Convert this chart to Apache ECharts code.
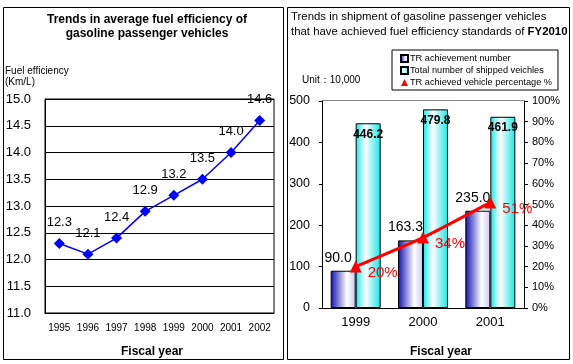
<!DOCTYPE html>
<html><head><meta charset="utf-8">
<script src="https://cdn.jsdelivr.net/npm/echarts@6/dist/echarts.min.js"></script>
<style>html,body{margin:0;padding:0;background:#fff}#c{width:573px;height:364px}</style>
</head><body><div id="c"></div>
<script>
const fuelYears = ['1995','1996','1997','1998','1999','2000','2001','2002'];
const fuelValues = [12.3, 12.1, 12.4, 12.9, 13.2, 13.5, 14.0, 14.6];
const shipYears = ['1999','2000','2001'];
const trNumber = [90.0, 163.3, 235.0];
const totalShipped = [446.2, 479.8, 461.9];
const trPercent = [0.20, 0.34, 0.51];
const legendNames = ['TR achievement number','Total number of shipped veichles','TR achieved vehicle percentage %'];

const F = 'Arial, "Liberation Sans", sans-serif';
const chart = echarts.init(document.getElementById('c'), null, {renderer:'canvas'});
const blueGrad = new echarts.graphic.LinearGradient(0,0,1,0,[
  {offset:0,color:'#1010b0'},{offset:0.65,color:'#ffffff'},{offset:1,color:'#c8c8f4'}]);
const cyanGrad = new echarts.graphic.LinearGradient(0,0,1,0,[
  {offset:0,color:'#19e6e6'},{offset:0.4,color:'#ffffff'},{offset:1,color:'#19e6e6'}]);

chart.setOption({
  animation:false,
  textStyle:{fontFamily:F},
  graphic:[
    {type:'rect',shape:{x:3.5,y:7.5,width:280,height:352},style:{fill:'none',stroke:'#000',lineWidth:1}},
    {type:'rect',shape:{x:287.5,y:7.5,width:282,height:352},style:{fill:'none',stroke:'#000',lineWidth:1}},
    {type:'text',x:147,y:20,style:{text:'Trends in average fuel efficiency of',font:'bold 12px '+F,fill:'#000',align:'center',verticalAlign:'middle'}},
    {type:'text',x:147,y:34,style:{text:'gasoline passenger vehicles',font:'bold 12px '+F,fill:'#000',align:'center',verticalAlign:'middle'}},
    {type:'text',x:5,y:71,style:{text:'Fuel efficiency',font:'10px '+F,fill:'#000',verticalAlign:'middle'}},
    {type:'text',x:5,y:82,style:{text:'(Km/L)',font:'10px '+F,fill:'#000',verticalAlign:'middle'}},
    {type:'text',x:152,y:352,style:{text:'Fiscal year',font:'bold 12px '+F,fill:'#000',align:'center',verticalAlign:'middle'}},
    {type:'text',x:291,y:17,style:{text:'Trends in shipment of gasoline passenger vehicles',font:'11.4px '+F,fill:'#000',verticalAlign:'middle'}},
    {type:'text',x:291,y:32,style:{text:'{n|that have achieved fuel efficiency standards of }{b|FY2010}',
      rich:{n:{font:'11.4px '+F,fill:'#000'},b:{font:'bold 11.4px '+F,fill:'#000'}},verticalAlign:'middle'}},
    {type:'text',x:302,y:80,style:{text:'Unit：10,000',font:'10px '+F,fill:'#000',verticalAlign:'middle'}},
    {type:'text',x:441,y:352,style:{text:'Fiscal year',font:'bold 12px '+F,fill:'#000',align:'center',verticalAlign:'middle'}},
    {type:'line',shape:{x1:322,y1:100.5,x2:524,y2:100.5},style:{stroke:'#888',lineWidth:1}}
  ],
  legend:{
    left:392, top:50, orient:'vertical',
    data:[{name:legendNames[0],icon:'rect'},{name:legendNames[1],icon:'rect'},{name:legendNames[2],icon:'triangle'}],
    itemWidth:7,itemHeight:7,itemGap:3,
    borderColor:'#000',borderWidth:1,padding:[4,6,3,8],
    textStyle:{fontSize:9.2,color:'#000',fontFamily:F,padding:[0,0,0,-3]}
  },
  grid:[
    {left:45,top:99,width:229,height:214,show:true,borderColor:'#000',borderWidth:1,backgroundColor:'transparent'},
    {left:322,top:101,width:202,height:207}
  ],
  xAxis:[
    {type:'category',gridIndex:0,data:fuelYears,boundaryGap:true,
     axisLine:{lineStyle:{color:'#000'}},axisTick:{inside:true,length:4,interval:0,lineStyle:{color:'#000'}},
     axisLabel:{color:'#000',fontSize:10,margin:10,interval:0,fontFamily:F}},
    {type:'category',gridIndex:1,data:shipYears,boundaryGap:true,
     axisLine:{lineStyle:{color:'#000'}},axisTick:{inside:true,length:4,lineStyle:{color:'#000'}},
     axisLabel:{color:'#000',fontSize:13,margin:8,fontFamily:F}}
  ],
  yAxis:[
    {type:'value',gridIndex:0,min:11,max:15,interval:0.5,
     axisLine:{show:true,lineStyle:{color:'#000'}},axisTick:{show:false},
     splitLine:{lineStyle:{color:'#000',width:1}},
     axisLabel:{color:'#000',fontSize:13,margin:14,formatter:v=>v.toFixed(1),fontFamily:F}},
    {type:'value',gridIndex:1,min:0,max:500,interval:100,
     axisLine:{show:true,lineStyle:{color:'#000'}},axisTick:{show:true,length:3,lineStyle:{color:'#000'}},
     splitLine:{show:false},
     axisLabel:{color:'#000',fontSize:12.5,margin:12,fontFamily:F}},
    {type:'value',gridIndex:1,position:'right',min:0,max:1,interval:0.1,
     axisLine:{show:true,lineStyle:{color:'#000'}},axisTick:{show:true,length:4,lineStyle:{color:'#000'}},
     splitLine:{show:false},
     axisLabel:{color:'#000',fontSize:11,margin:8,formatter:v=>Math.round(v*100)+'%',fontFamily:F}}
  ],
  series:[
    {type:'line',xAxisIndex:0,yAxisIndex:0,data:fuelValues,symbol:'diamond',symbolSize:11,
     itemStyle:{color:'#0000ff'},lineStyle:{color:'#0000ff',width:1.5},
     label:{show:true,position:'top',distance:9,color:'#000',fontSize:13,fontFamily:F,formatter:p=>p.value.toFixed(1)}},
    {name:legendNames[0],type:'bar',xAxisIndex:1,yAxisIndex:1,data:trNumber,barWidth:25,barGap:'0%',
     itemStyle:{color:blueGrad,borderColor:'#000',borderWidth:1},
     label:{show:true,position:'top',distance:6,offset:[-5,0],color:'#000',fontSize:14,fontFamily:F,formatter:p=>p.value.toFixed(1)}},
    {name:legendNames[1],type:'bar',xAxisIndex:1,yAxisIndex:1,data:totalShipped,barWidth:25,barGap:'0%',
     itemStyle:{color:cyanGrad,borderColor:'#000',borderWidth:1},
     label:{show:true,position:'insideTop',distance:5,color:'#000',fontSize:12,fontWeight:'bold',fontFamily:F,formatter:p=>p.value.toFixed(1)}},
    {name:legendNames[2],type:'line',xAxisIndex:1,yAxisIndex:2,data:trPercent,smooth:0.2,
     symbol:'triangle',symbolSize:12,itemStyle:{color:'#ff0000'},lineStyle:{color:'#ff0000',width:3},
     label:{show:true,position:'right',distance:4,offset:[2,6],color:'#ff0000',fontSize:15,fontFamily:F,
       formatter:p=>Math.round(p.value*100)+'%'}}
  ]
});
</script></body></html>
